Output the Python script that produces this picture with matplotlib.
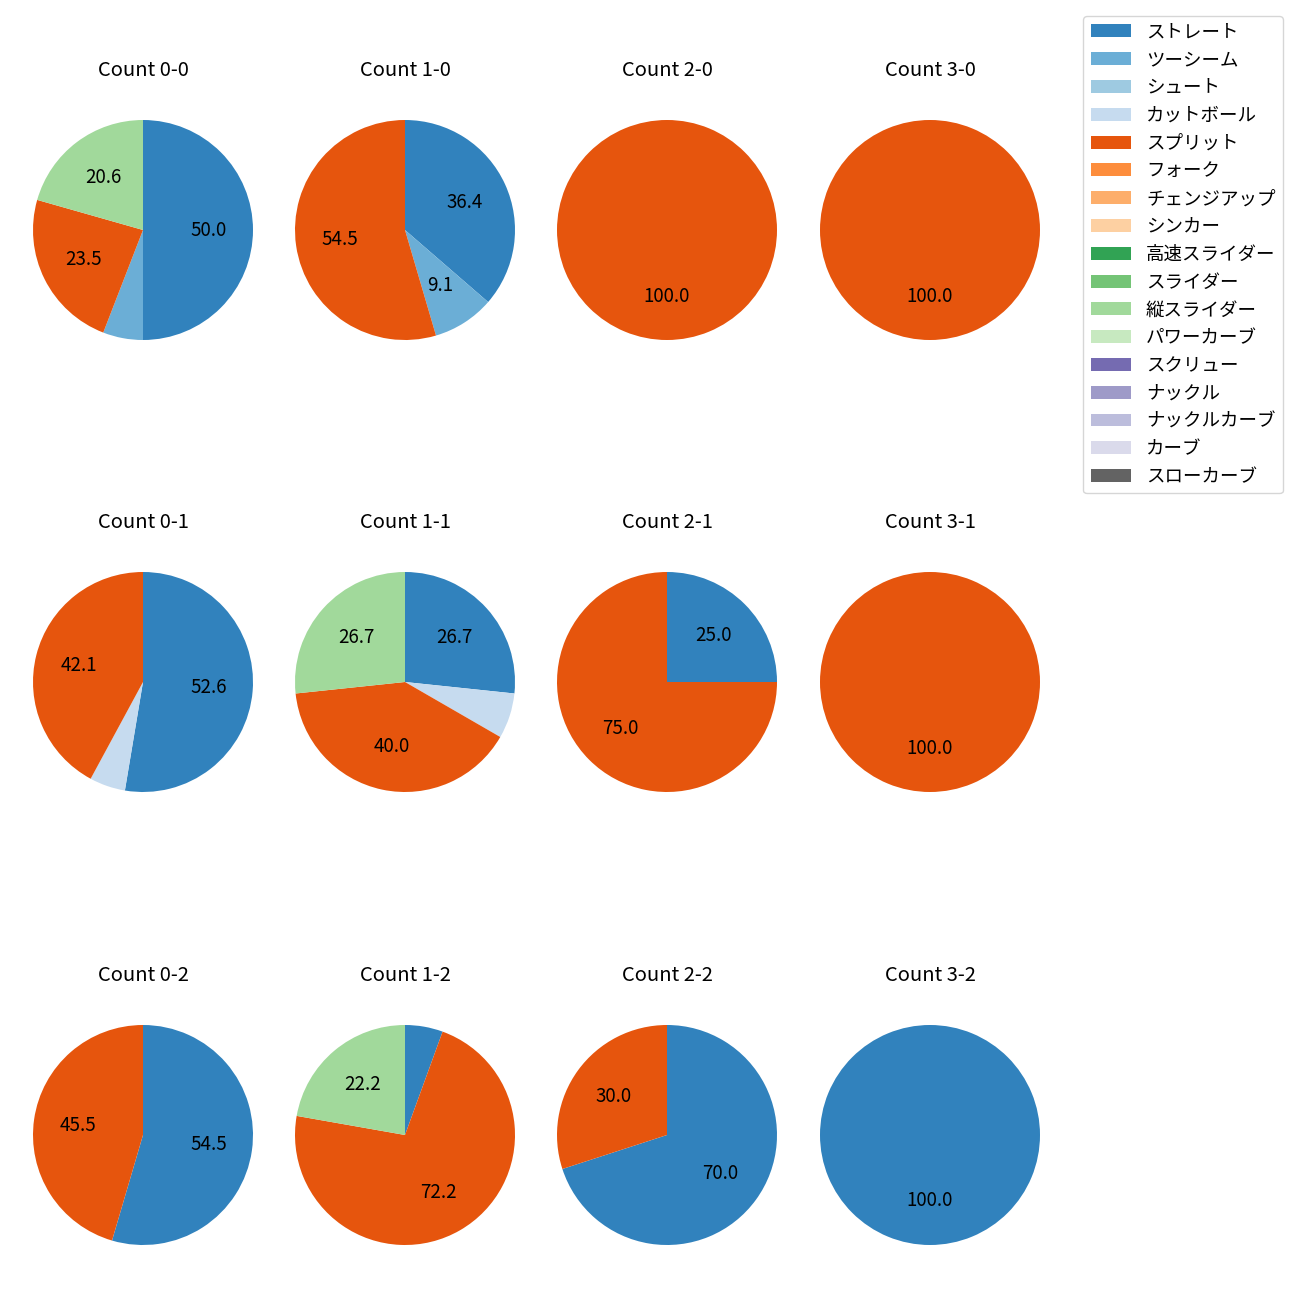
import numpy as np
import matplotlib
matplotlib.use('Agg')
import matplotlib.pyplot as plt
from matplotlib.patches import Patch

plt.rcParams['font.family'] = ['Noto Sans CJK JP', 'DejaVu Sans']

# pitch types (legend order) and colours from tab20c
pitch_types = ['ストレート', 'ツーシーム', 'シュート', 'カットボール', 'スプリット', 'フォーク',
               'チェンジアップ', 'シンカー', '高速スライダー', 'スライダー', '縦スライダー',
               'パワーカーブ', 'スクリュー', 'ナックル', 'ナックルカーブ', 'カーブ', 'スローカーブ']
cmap = plt.get_cmap('tab20c')
colors = [cmap(i) for i in range(17)]

# pitch counts per ball-strike count
counts = {
    'Count 0-0': {'ストレート': 17, 'ツーシーム': 2, 'スプリット': 8, '縦スライダー': 7},
    'Count 1-0': {'ストレート': 4, 'ツーシーム': 1, 'スプリット': 6},
    'Count 2-0': {'スプリット': 1},
    'Count 3-0': {'スプリット': 1},
    'Count 0-1': {'ストレート': 10, 'カットボール': 1, 'スプリット': 8},
    'Count 1-1': {'ストレート': 4, 'カットボール': 1, 'スプリット': 6, '縦スライダー': 4},
    'Count 2-1': {'ストレート': 1, 'スプリット': 3},
    'Count 3-1': {'スプリット': 1},
    'Count 0-2': {'ストレート': 6, 'スプリット': 5},
    'Count 1-2': {'ストレート': 1, 'スプリット': 13, '縦スライダー': 4},
    'Count 2-2': {'ストレート': 7, 'スプリット': 3},
    'Count 3-2': {'ストレート': 1},
}
titles = list(counts.keys())

fig = plt.figure(figsize=(13, 13), dpi=100)
W = H = 1300.0
r_px = 110
side = 2.5 * r_px
cx = [143, 405, 667, 930]
cy = [230, 682, 1135]

for i, title in enumerate(titles):
    row, col = divmod(i, 4)
    ax = fig.add_axes([(cx[col] - side / 2) / W, 1 - (cy[row] + side / 2) / H, side / W, side / H])
    d = counts[title]
    labels = [p for p in pitch_types if p in d]
    vals = [d[p] for p in labels]
    cols = [colors[pitch_types.index(p)] for p in labels]
    ax.pie(vals, colors=cols, startangle=90, counterclock=False,
           autopct=lambda p: f'{p:.1f}' if p >= 8 else '',
           textprops={'fontsize': 13.5})
    ax.set_title(title, fontsize=14.5, pad=12)

handles = [Patch(facecolor=c) for c in colors]
fig.legend(handles, pitch_types, loc='upper right', bbox_to_anchor=(1283 / W, 1 - 16 / H),
           borderaxespad=0, fontsize=13.3, handlelength=2.2, labelspacing=0.53)

fig.savefig('out.png', dpi=100)
